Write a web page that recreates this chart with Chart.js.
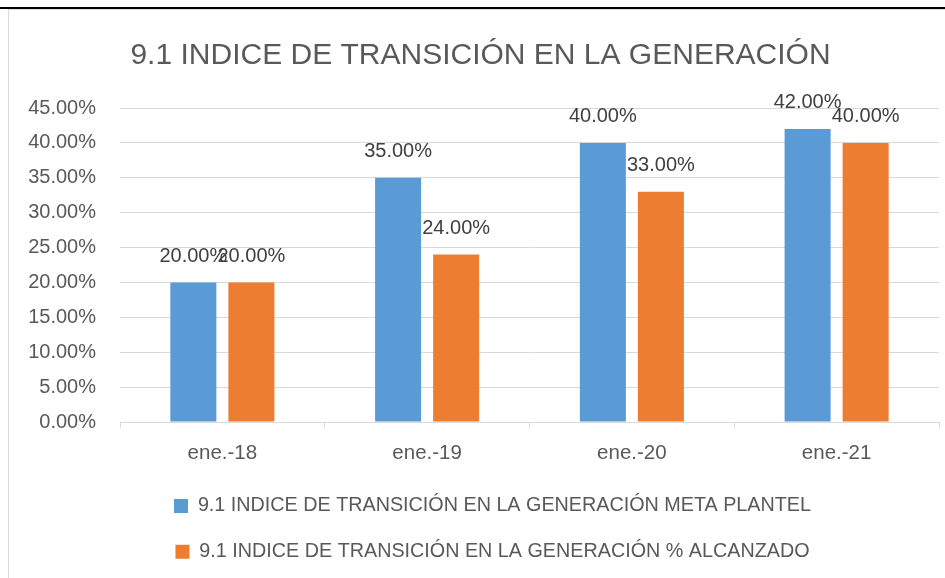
<!DOCTYPE html>
<html>
<head>
<meta charset="utf-8">
<script src="https://cdn.jsdelivr.net/npm/chart.js@4"></script>
<style>
  html, body { margin: 0; padding: 0; background: #fff; }
  #wrap { position: relative; width: 945px; height: 578px; overflow: hidden; }
  #topline { position: absolute; left: 0; top: 7px; width: 945px; height: 2px; background: #000; }
  #topline2 { position: absolute; left: 8px; top: 9px; width: 937px; height: 1px; background: #e0e0e0; }
  #leftline { position: absolute; left: 8px; top: 10px; width: 1px; height: 568px; background: #d9d9d9; }
  canvas { position: absolute; left: 0; top: 0; }
</style>
</head>
<body>
<div id="wrap">
  <canvas id="c" width="945" height="578"></canvas>
  <div id="topline"></div>
  <div id="topline2"></div>
  <div id="leftline"></div>
</div>
<script>
const categories = ['ene.-18', 'ene.-19', 'ene.-20', 'ene.-21'];
const metaPlantel = [20, 35, 40, 42];
const alcanzado = [20, 24, 33, 40];
const seriesNames = [
  '9.1 INDICE DE TRANSICIÓN EN LA GENERACIÓN META PLANTEL',
  '9.1 INDICE DE TRANSICIÓN EN LA GENERACIÓN % ALCANZADO'
];
const chartTitle = '9.1 INDICE DE TRANSICIÓN EN LA GENERACIÓN';
const yMax = 45;
const yStep = 5;

const FONT = "'Liberation Sans', Arial, sans-serif";
const TXT = '#595959';

const dataLabels = {
  id: 'dataLabels',
  afterDatasetsDraw(chart) {
    const ctx = chart.ctx;
    ctx.save();
    ctx.font = '20px ' + FONT;
    ctx.fillStyle = '#404040';
    ctx.textAlign = 'center';
    ctx.textBaseline = 'middle';
    chart.data.datasets.forEach((ds, di) => {
      const meta = chart.getDatasetMeta(di);
      meta.data.forEach((el, i) => {
        ctx.fillText(ds.data[i].toFixed(2) + '%', el.x, el.y - 26);
      });
    });
    ctx.restore();
  }
};

// nudge the legend block to the right (layout only)
const legendShift = {
  id: 'legendShift',
  afterLayout(chart) {
    if (chart.legend) { chart.legend.left += 12; chart.legend.right += 12; }
  }
};

new Chart(document.getElementById('c'), {
  type: 'bar',
  data: {
    labels: categories,
    datasets: [
      { label: seriesNames[0], data: metaPlantel, backgroundColor: '#5B9BD5',
        categoryPercentage: 0.567, barPercentage: 0.793 },
      { label: seriesNames[1], data: alcanzado, backgroundColor: '#ED7D31',
        categoryPercentage: 0.567, barPercentage: 0.793 }
    ]
  },
  options: {
    responsive: false,
    animation: false,
    layout: { padding: { left: 22, right: 6, top: 10, bottom: 6.5 } },
    plugins: {
      title: {
        display: true, text: chartTitle, color: TXT,
        font: { family: FONT, size: 30, weight: 'normal' },
        padding: { top: 28, bottom: 34 }
      },
      legend: {
        position: 'bottom',
        labels: {
          color: TXT, font: { family: FONT, size: 19.75 },
          boxWidth: 14, boxHeight: 14, padding: 26
        }
      },
      tooltip: { enabled: false }
    },
    scales: {
      x: {
        grid: { display: true, drawOnChartArea: false, drawTicks: true, tickLength: 6,
                offset: true, color: '#d9d9d9' },
        border: { display: true, color: '#d9d9d9' },
        ticks: { color: TXT, font: { family: FONT, size: 20.5 }, padding: 13 },
        afterFit(scale) { scale.height = 48; }
      },
      y: {
        min: 0, max: yMax,
        grid: { color: '#d9d9d9', drawTicks: false },
        border: { display: false },
        ticks: {
          stepSize: yStep, color: TXT, font: { family: FONT, size: 20 }, padding: 24,
          callback: v => v.toFixed(2) + '%'
        },
        afterFit(scale) { scale.width = 98; }
      }
    }
  },
  plugins: [dataLabels, legendShift]
});
</script>
</body>
</html>
